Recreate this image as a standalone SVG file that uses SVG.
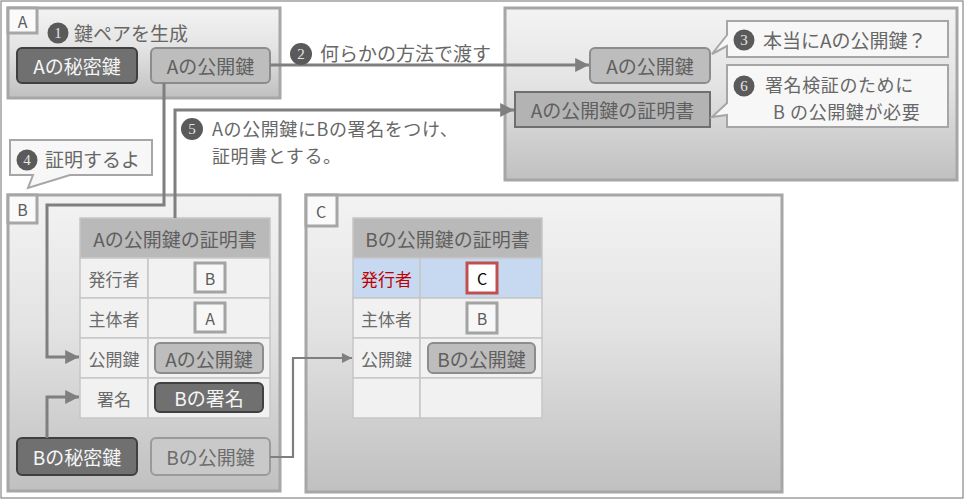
<svg xmlns="http://www.w3.org/2000/svg" width="964" height="500" viewBox="0 0 964 500">
<defs>
<linearGradient id="bg" x1="0" y1="0" x2="0" y2="1">
<stop offset="0" stop-color="#f3f3f3"/>
<stop offset="0.45" stop-color="#e3e3e3"/>
<stop offset="1" stop-color="#c0c0c0"/>
</linearGradient>
<marker id="ar" viewBox="0 0 10 10" refX="10" refY="5" markerWidth="4.6" markerHeight="4.6" markerUnits="strokeWidth" orient="auto">
<path d="M0,0 L10,5 L0,10 Z" fill="#7f7f7f"/>
</marker>
</defs>
<style>
text{font-family:"Noto Sans CJK JP","Noto Sans",sans-serif;fill:#676767;dominant-baseline:central}
.box{fill:url(#bg);stroke:#a6a6a6;stroke-width:3}
.tab{fill:#fafafa;stroke:#a6a6a6;stroke-width:3}
.tabt{font-size:16px;text-anchor:middle;fill:#5e5e5e}
.t19{font-size:19px}
.t18{font-size:18px;letter-spacing:0.6px}
.dark{fill:#707070;stroke:#404040;stroke-width:2}
.darkt{fill:#f5f5f5;font-size:19px;text-anchor:middle}
.pub{fill:#bdbdbd;stroke:#8c8c8c;stroke-width:2}
.pub2{fill:#c9c9c9;stroke:#9a9a9a;stroke-width:2}
.pubt{font-size:19px;text-anchor:middle;fill:#5f5f5f}
.num{fill:#5a5a5a}
.numt{font-family:"Liberation Serif",serif;font-size:15px;fill:#e4e4e4;text-anchor:middle}
.call{fill:#f7f7f7;stroke:#a6a6a6;stroke-width:2}
.hdr{fill:#b9b9b9;stroke:#c6c6c6;stroke-width:1.5}
.cell{fill:#f1f1f1;stroke:#c6c6c6;stroke-width:1.5}
.cellb{fill:#c6d9f0;stroke:#c6c6c6;stroke-width:1.5}
.rowt{font-size:17px;text-anchor:middle;fill:#6a6a6a}
.sq{fill:#f7f7f7;stroke:#a3a3a3;stroke-width:3}
.sqt{font-size:16px;text-anchor:middle;fill:#5e5e5e}
.conn{fill:none;stroke:#7f7f7f;stroke-width:3}
</style>
<rect x="1" y="1" width="962" height="497" fill="#ffffff" stroke="#888888" stroke-width="1.2"/>

<g id="boxA">
<rect class="box" x="8" y="8" width="272" height="90"/>
<rect class="tab" x="8" y="8" width="29" height="25"/>
<text class="tabt" x="22.5" y="20.5">A</text>
<circle class="num" cx="58" cy="33" r="10.5"/>
<text class="numt" x="58" y="33">1</text>
<text class="t19" x="74" y="32">鍵ペアを生成</text>
</g>
<g id="a-secret">
<rect class="dark" x="17" y="48" width="120" height="35" rx="5"/>
<text class="darkt" x="77" y="65.5">Aの秘密鍵</text>
</g>
<g id="a-public">
<rect class="pub" x="151" y="48" width="119" height="35" rx="5"/>
<text class="pubt" x="210.5" y="65.5">Aの公開鍵</text>
</g>

<g id="boxR">
<rect class="box" x="505" y="8" width="452" height="172"/>
</g>
<g id="r-public">
<rect class="pub" x="590" y="48" width="120" height="35" rx="5"/>
<text class="pubt" x="650" y="65.5">Aの公開鍵</text>
</g>
<g id="r-cert">
<rect x="515" y="92" width="195" height="35" fill="#b3b3b3" stroke="#6f6f6f" stroke-width="2"/>
<text class="pubt" x="612.5" y="109.5">Aの公開鍵の証明書</text>
</g>
<g id="callout3">
<path class="call" d="M727,21 H948 V57 H727 V46 L712,54 L727,35 Z"/>
<circle class="num" cx="744" cy="40" r="10.5"/>
<text class="numt" x="744" y="40">3</text>
<text class="t19" x="763" y="39">本当にAの公開鍵？</text>
</g>
<g id="callout6">
<path class="call" d="M727,65 H948 V127 H727 V115 L712,117 L727,103 Z"/>
<circle class="num" cx="744" cy="86" r="10.5"/>
<text class="numt" x="744" y="86">6</text>
<text class="t18" y="84"><tspan x="765">署名検証のために</tspan><tspan x="773" dy="26.5">B の公開鍵が必要</tspan></text>
</g>

<g id="callout4">
<path class="call" d="M10,140 H152 V175 H70 L28,188 L33,175 H10 Z"/>
<circle class="num" cx="27" cy="160" r="10.5"/>
<text class="numt" x="27" y="160">4</text>
<text class="t19" x="45" y="158">証明するよ</text>
</g>

<g id="boxB">
<rect class="box" x="8" y="195" width="272" height="296"/>
<rect class="tab" x="8" y="195" width="29" height="28"/>
<text class="tabt" x="22.5" y="209">B</text>
</g>
<g id="certA">
<rect class="hdr" x="80" y="218" width="190" height="40"/>
<text class="pubt" x="175" y="238">Aの公開鍵の証明書</text>
<rect class="cell" x="80" y="258" width="68" height="40"/>
<rect class="cell" x="148" y="258" width="122" height="40"/>
<rect class="cell" x="80" y="298" width="68" height="40"/>
<rect class="cell" x="148" y="298" width="122" height="40"/>
<rect class="cell" x="80" y="338" width="68" height="40"/>
<rect class="cell" x="148" y="338" width="122" height="40"/>
<rect class="cell" x="80" y="378" width="68" height="40"/>
<rect class="cell" x="148" y="378" width="122" height="40"/>
<text class="rowt" x="114" y="278">発行者</text>
<text class="rowt" x="114" y="318">主体者</text>
<text class="rowt" x="114" y="358">公開鍵</text>
<text class="rowt" x="114" y="398">署名</text>
<rect class="sq" x="195" y="263" width="30" height="29"/>
<text class="sqt" x="210" y="277.5">B</text>
<rect class="sq" x="195" y="303" width="30" height="29"/>
<text class="sqt" x="210" y="317.5">A</text>
<rect class="pub" x="155" y="343" width="108" height="30" rx="5"/>
<text class="pubt" x="209" y="358">Aの公開鍵</text>
<rect class="dark" x="155" y="383" width="108" height="29" rx="5"/>
<text class="darkt" x="209" y="397.5">Bの署名</text>
</g>
<g id="b-secret">
<rect class="dark" x="17" y="438" width="120" height="37" rx="5"/>
<text class="darkt" x="77" y="456.5">Bの秘密鍵</text>
</g>
<g id="b-public">
<rect class="pub2" x="151" y="438" width="119" height="37" rx="5"/>
<text class="pubt" x="210.5" y="456.5" style="fill:#6c6c6c">Bの公開鍵</text>
</g>

<g id="boxC">
<rect class="box" x="306" y="195" width="476" height="297"/>
<rect class="tab" x="306" y="195" width="31" height="31"/>
<text class="tabt" x="321" y="211">C</text>
</g>
<g id="certB">
<rect class="hdr" x="353" y="218" width="189" height="40"/>
<text class="pubt" x="447.5" y="238">Bの公開鍵の証明書</text>
<rect class="cellb" x="353" y="258" width="67" height="40"/>
<rect class="cellb" x="420" y="258" width="122" height="40"/>
<rect class="cell" x="353" y="298" width="67" height="40"/>
<rect class="cell" x="420" y="298" width="122" height="40"/>
<rect class="cell" x="353" y="338" width="67" height="40"/>
<rect class="cell" x="420" y="338" width="122" height="40"/>
<rect class="cell" x="353" y="378" width="67" height="40"/>
<rect class="cell" x="420" y="378" width="122" height="40"/>
<text class="rowt" x="386.5" y="278" style="fill:#c00000">発行者</text>
<text class="rowt" x="386.5" y="318">主体者</text>
<text class="rowt" x="386.5" y="358">公開鍵</text>
<rect x="467" y="263" width="30" height="30" fill="#ffffff" stroke="#c0504d" stroke-width="3"/>
<text class="sqt" x="482" y="278" style="fill:#000000">C</text>
<rect class="sq" x="467" y="303" width="30" height="30"/>
<text class="sqt" x="482" y="318">B</text>
<rect class="pub" x="428" y="343" width="107" height="30" rx="5"/>
<text class="pubt" x="481.5" y="358">Bの公開鍵</text>
</g>

<g id="connectors">
<path class="conn" d="M270,65 H589" marker-end="url(#ar)"/>
<path class="conn" d="M175,218 V110 H514" marker-end="url(#ar)"/>
<path class="conn" d="M164,83 V205 H47 V357 H79" marker-end="url(#ar)"/>
<path class="conn" d="M47,438 V397 H79" marker-end="url(#ar)"/>
<path class="conn" d="M270,457 H293 V358 H352" marker-end="url(#ar)" style="stroke-width:2.2"/>
</g>
<g id="labels">
<circle class="num" cx="301" cy="54" r="11"/>
<text class="numt" x="301" y="54">2</text>
<text class="t19" x="320" y="52">何らかの方法で渡す</text>
<circle class="num" cx="192" cy="129" r="11"/>
<text class="numt" x="192" y="129">5</text>
<text class="t18" y="128"><tspan x="212">Aの公開鍵にBの署名をつけ、</tspan><tspan x="212" dy="26.5">証明書とする。</tspan></text>
</g>
</svg>
